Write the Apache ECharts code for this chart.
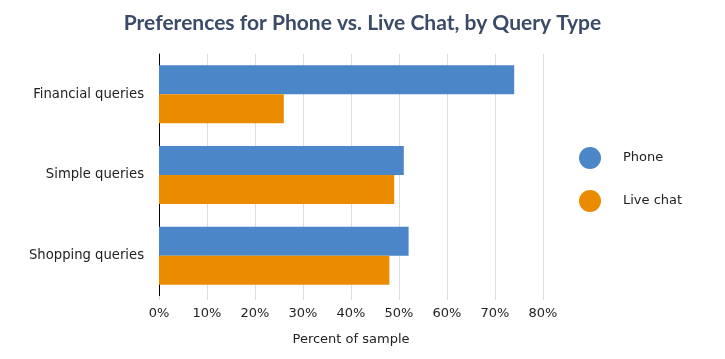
<!DOCTYPE html>
<html><head><meta charset="utf-8">
<script src="https://cdn.jsdelivr.net/npm/echarts@6/dist/echarts.min.js"></script>
<style>html,body{margin:0;padding:0;background:#fff}#c{width:725px;height:359px}</style>
</head><body><div id="c"></div>
<script>
var categories = ['Financial queries', 'Simple queries', 'Shopping queries'];
var phoneValues = [74, 51, 52];
var liveChatValues = [26, 49, 48];
var xTicks = [0, 10, 20, 30, 40, 50, 60, 70, 80];

var chart = echarts.init(document.getElementById('c'));
var font = 'DejaVu Sans';
chart.setOption({
  animation: false,
  title: {
    text: 'Preferences for Phone vs. Live Chat, by Query Type',
    left: 'center', top: 8,
    textStyle: {fontFamily: 'Lato', fontWeight: 'bold', fontSize: 21, color: '#3b4a66'}
  },
  legend: {
    orient: 'vertical', left: 574, top: 142,
    itemWidth: 22, itemHeight: 22, itemGap: 21, icon: 'circle',
    textStyle: {fontFamily: font, fontSize: 13, color: '#222', padding: [0, 0, 0, 17]},
    data: ['Phone', 'Live chat']
  },
  grid: {left: 159, right: 182, top: 54, bottom: 63},
  xAxis: {
    type: 'value', min: xTicks[0], max: xTicks[xTicks.length - 1], interval: 10,
    name: 'Percent of sample', nameLocation: 'middle', nameGap: 37,
    nameTextStyle: {fontFamily: font, fontSize: 13, color: '#222'},
    axisLine: {show: false},
    axisTick: {show: true, length: 4, lineStyle: {color: '#ddd'}},
    axisLabel: {fontFamily: font, fontSize: 13, color: '#222', margin: 11, formatter: '{value}%'},
    splitLine: {show: true, lineStyle: {color: '#ddd'}}
  },
  yAxis: {
    type: 'category', data: categories, inverse: true,
    axisLine: {show: true, lineStyle: {color: '#000', width: 1}},
    axisTick: {show: false},
    axisLabel: {fontFamily: font, fontSize: 13.2, color: '#222', margin: 15, padding: [5, 0, 0, 0]}
  },
  series: [
    {name: 'Phone', type: 'bar', data: phoneValues, barGap: '0%', barCategoryGap: '28%',
     itemStyle: {color: '#4a86c8'}},
    {name: 'Live chat', type: 'bar', data: liveChatValues, barGap: '0%', barCategoryGap: '28%',
     itemStyle: {color: '#eb8c00'}}
  ]
});
</script></body></html>
